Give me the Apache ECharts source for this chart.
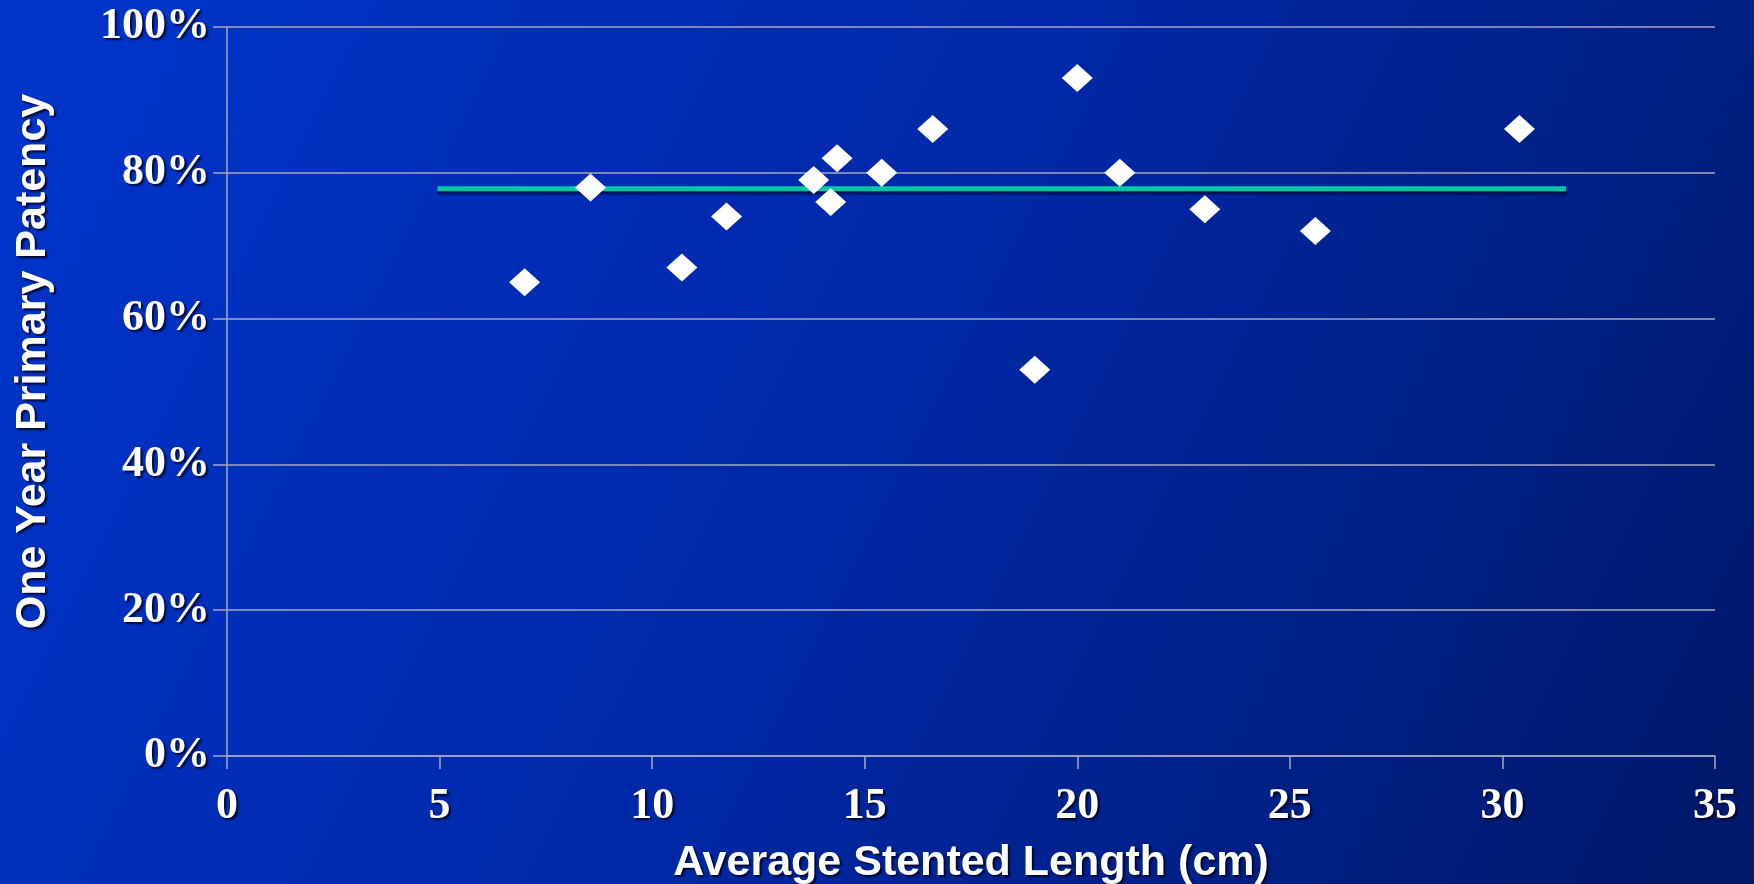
<!DOCTYPE html>
<html>
<head>
<meta charset="utf-8">
<script src="https://cdn.jsdelivr.net/npm/echarts@6/dist/echarts.min.js"></script>
<style>
  html, body { margin: 0; padding: 0; }
  #chart { width: 1754px; height: 884px; }
</style>
</head>
<body>
<div id="chart"></div>
<script>
// stented length (cm) vs one year primary patency (%)
var lengths = [7.0, 8.55, 10.7, 11.75, 13.8, 14.35, 14.2, 15.4, 16.6, 19.0, 20.0, 21.0, 23.0, 25.6, 30.4];
var patency = [65, 78, 67, 74, 79, 82, 76, 80, 86, 53, 93, 80, 75, 72, 86];
var trendX = [4.95, 31.5];
var trendY = [77.8, 77.8];

var chart = echarts.init(document.getElementById('chart'));

var points = [];
for (var i = 0; i < lengths.length; i++) {
    points.push([lengths[i], patency[i]]);
}
var trend = [];
for (var j = 0; j < trendX.length; j++) {
    trend.push([trendX[j], trendY[j]]);
}

var shadowText = {
    color: '#ffffff',
    textShadowColor: 'rgba(0,0,30,0.85)',
    textShadowBlur: 2,
    textShadowOffsetX: 2,
    textShadowOffsetY: 2
};

var option = {
    backgroundColor: {
        type: 'linear',
        x: 0, y: 0, x2: 1, y2: 1,
        colorStops: [
            { offset: 0, color: '#0035cc' },
            { offset: 0.5, color: '#0028a6' },
            { offset: 1, color: '#001868' }
        ]
    },
    grid: {
        left: 227,
        right: 39,
        top: 27,
        bottom: 128,
        outerBoundsMode: 'none',
        containLabel: false
    },
    xAxis: {
        type: 'value',
        min: 0,
        max: 35,
        interval: 5,
        name: 'Average Stented Length (cm)',
        nameLocation: 'middle',
        nameGap: 86,
        nameTextStyle: Object.assign({
            fontFamily: 'Liberation Sans',
            fontWeight: 'bold',
            fontSize: 43
        }, shadowText),
        axisLine: { lineStyle: { color: '#a4a8c0', width: 1.5 } },
        axisTick: { length: 13, lineStyle: { color: '#a4a8c0', width: 1.5 } },
        axisLabel: Object.assign({
            fontFamily: 'Liberation Serif',
            fontWeight: 'bold',
            fontSize: 44,
            margin: 29
        }, shadowText),
        splitLine: { show: false }
    },
    yAxis: {
        type: 'value',
        min: 0,
        max: 100,
        interval: 20,
        name: 'One Year Primary Patency',
        nameLocation: 'middle',
        nameGap: 172,
        nameRotate: 90,
        nameTextStyle: Object.assign({
            fontFamily: 'Liberation Sans',
            fontWeight: 'bold',
            fontSize: 43,
            padding: [0, 0, 0, 60]
        }, shadowText),
        axisLine: { show: true, lineStyle: { color: '#a4a8c0', width: 1.5 } },
        axisTick: { show: true, length: 14, lineStyle: { color: '#a4a8c0', width: 1.5 } },
        axisLabel: Object.assign({
            fontFamily: 'Liberation Serif',
            fontWeight: 'bold',
            fontSize: 44,
            margin: 17,
            formatter: '{value}%'
        }, shadowText),
        splitLine: { show: true, lineStyle: { color: '#a4a8c0', width: 1.5 } }
    },
    series: [
        {
            name: 'Trend',
            type: 'line',
            data: trend,
            symbol: 'none',
            silent: true,
            lineStyle: {
                color: '#00c8a0',
                width: 5,
                shadowColor: 'rgba(0,10,60,0.8)',
                shadowOffsetY: 3,
                shadowBlur: 2
            },
            z: 2
        },
        {
            name: 'Patency',
            type: 'scatter',
            data: points,
            symbol: 'diamond',
            symbolSize: [31, 28],
            itemStyle: { color: '#ffffff', opacity: 1 },
            z: 3
        }
    ]
};

chart.setOption(option);
</script>
</body>
</html>
